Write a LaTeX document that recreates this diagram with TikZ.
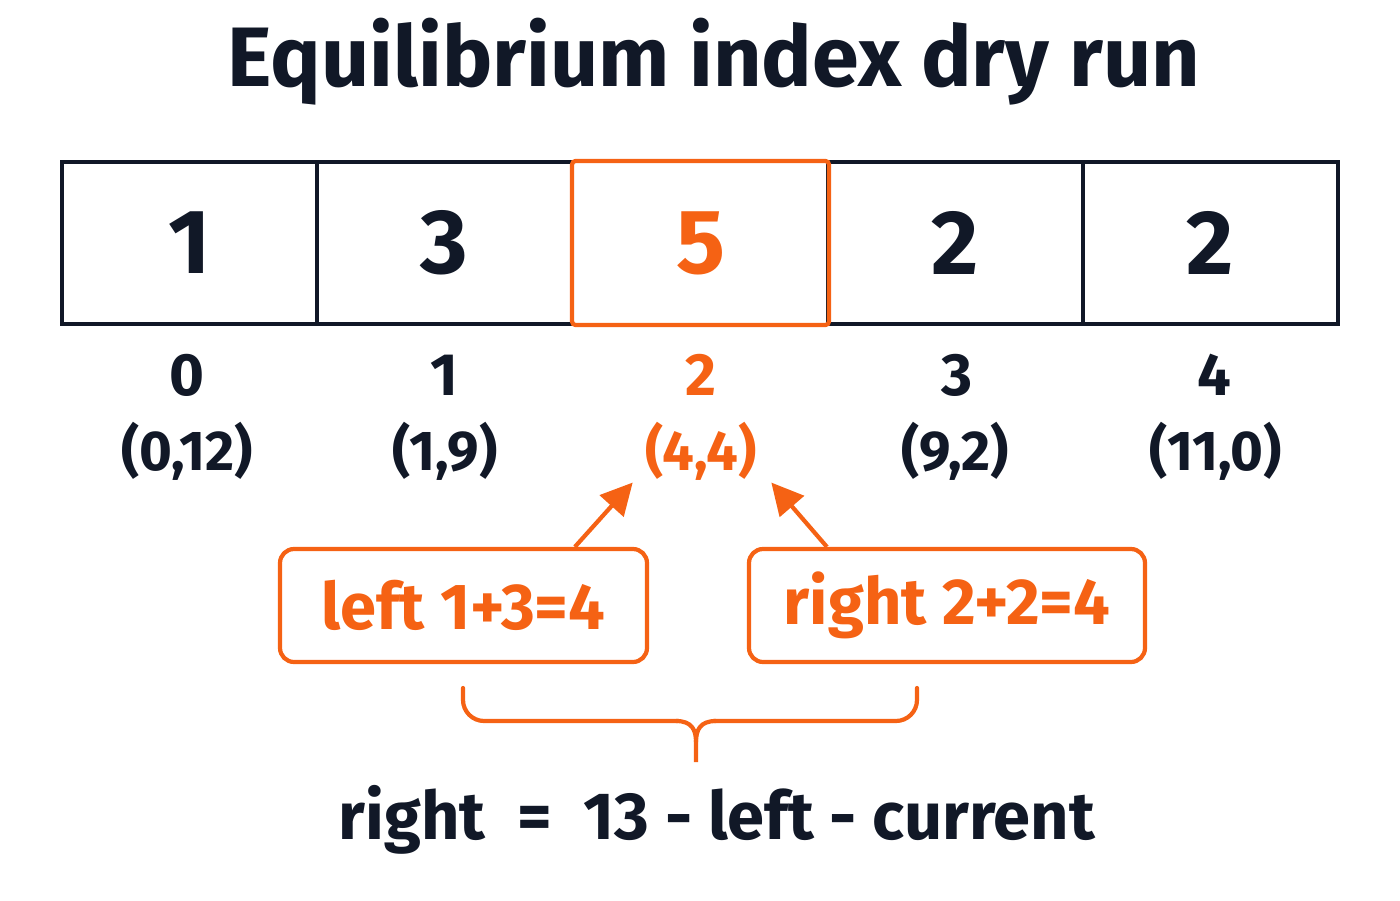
\documentclass[tikz,border=0pt]{standalone}
\usepackage{fontspec}
\setmainfont{Fira Sans}
\usetikzlibrary{arrows.meta,calc}
\definecolor{ink}{RGB}{17,24,39}
\definecolor{accent}{RGB}{245,98,20}
\begin{document}
\begin{tikzpicture}[
    every node/.style={font=\bfseries, text=ink},
    cell/.style={draw=ink, line width=1.2pt, rectangle, minimum width=2.55cm, minimum height=1.62cm, font=\fontsize{26}{30}\selectfont\bfseries},
    hotcell/.style={cell, draw=accent, text=accent, rounded corners=1pt},
    idx/.style={font=\fontsize{17}{20}\selectfont\bfseries},
    pair/.style={font=\fontsize{16}{20}\selectfont\bfseries},
    sumbox/.style={draw=accent, line width=1.2pt, rectangle, rounded corners=4pt, minimum height=1.13cm, text=accent, font=\fontsize{18.5}{22}\selectfont\bfseries},
    pointer/.style={draw=accent, line width=1.2pt, -{Triangle[length=9pt, width=9pt]}}
]
    \useasboundingbox (0, 0) rectangle (14, 9);

    \node[font=\fontsize{24}{28}\selectfont\bfseries] (title) at (7.14, 8.38) {Equilibrium index dry run};

    % array cells
    \node[cell] (c0) at (1.895, 6.57) {1};
    \node[cell] (c1) at (4.445, 6.57) {3};
    \node[cell] (c3) at (9.555, 6.57) {2};
    \node[cell] (c4) at (12.105, 6.57) {2};
    \node[hotcell, minimum width=2.57cm, minimum height=1.64cm] (c2) at (7.005, 6.57) {5};

    % indices and (left,right) sums
    \node[idx] (i0) at (1.87, 5.25) {0};
    \node[idx] (i1) at (4.44, 5.25) {1};
    \node[idx, text=accent] (i2) at (7.01, 5.25) {2};
    \node[idx] (i3) at (9.57, 5.25) {3};
    \node[idx] (i4) at (12.14, 5.25) {4};
    \node[pair] (p0) at (1.87, 4.49) {(0,12)};
    \node[pair] (p1) at (4.45, 4.49) {(1,9)};
    \node[pair, text=accent] (p2) at (7.01, 4.49) {(4,4)};
    \node[pair] (p3) at (9.55, 4.49) {(9,2)};
    \node[pair] (p4) at (12.16, 4.49) {(11,0)};

    % sum boxes
    \node[sumbox, minimum width=3.67cm] (lsum) at (4.635, 2.945) {left 1+3=4};
    \node[sumbox, minimum width=3.96cm] (rsum) at (9.47, 2.945) {right 2+2=4};

    \coordinate (ltip) at ($(p2.south west)+(0, 0.1)$);
    \coordinate (rtip) at ($(p2.south east)+(0.02, 0.1)$);
    \draw[pointer] ($(lsum.north west)!0.8!(lsum.north east)$) -- (ltip);
    \draw[pointer] ($(rsum.north west)!0.2!(rsum.north east)$) -- (rtip);

    % brace
    \coordinate (bl) at (4.63, 2.12);
    \coordinate (br) at (9.17, 2.12);
    \coordinate (bm) at (6.96, 1.38);
    \draw[accent, line width=1.2pt, line cap=round, rounded corners=6pt]
        (bl) -- (4.63, 1.79) -- (6.78, 1.79);
    \draw[accent, line width=1.2pt, line cap=round, rounded corners=6pt]
        (br) -- (9.17, 1.79) -- (7.14, 1.79);
    \draw[accent, line width=1.2pt] (6.76, 1.79) .. controls (6.92, 1.79) and (6.96, 1.70) .. (6.96, 1.58) -- (bm);
    \draw[accent, line width=1.2pt] (7.16, 1.79) .. controls (7.00, 1.79) and (6.96, 1.70) .. (6.96, 1.58);

    \node[font=\fontsize{19}{23}\selectfont\bfseries] (formula) at (7.17, 0.80) {right\ \ =\ \ 13 - left - current};
\end{tikzpicture}
\end{document}
